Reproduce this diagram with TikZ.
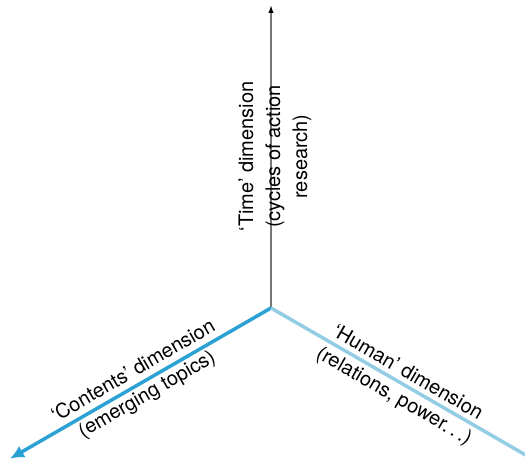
\documentclass[tikz,border=0pt]{standalone}
\usepackage{fontspec}
\setmainfont{TeX Gyre Heros}
\usetikzlibrary{arrows.meta}
\definecolor{timegray}{HTML}{777777}
\definecolor{contentblue}{HTML}{2BA2D3}
\definecolor{humanblue}{HTML}{92CDE3}
\begin{document}
\begin{tikzpicture}[x=0.5pt, y=0.5pt, >=Latex,
   dimlabel/.style={sloped, align=center, text=black, inner sep=0pt,
     font=\fontsize{10}{13.5}\selectfont}
   ]
   \clip (0,0) rectangle (525,460);

   \coordinate (O) at (271,152);
   \coordinate (T) at (271,455);
   \coordinate (L) at (10,1.3);
   \coordinate (R) at (532,1.3);

   \draw[timegray, line width=0.65pt, -{Latex[black, length=4pt, width=2.6pt]}] (O) --
     node[dimlabel, yshift=-2pt] (timelbl) {‘Time’ dimension\\(cycles of action\\research)} (T);

   \draw[contentblue, line width=1.75pt, -{Latex[length=7pt, width=6.5pt]}] (O) --
     node[dimlabel] (contentlbl) {‘Contents’ dimension\\(emerging topics)} (L);

   \draw[humanblue, line width=1.75pt] (O) --
     node[dimlabel, yshift=-1pt] (humanlbl) {‘Human’ dimension\\(relations, power.\,.\,.)} (R);
\end{tikzpicture}
\end{document}
